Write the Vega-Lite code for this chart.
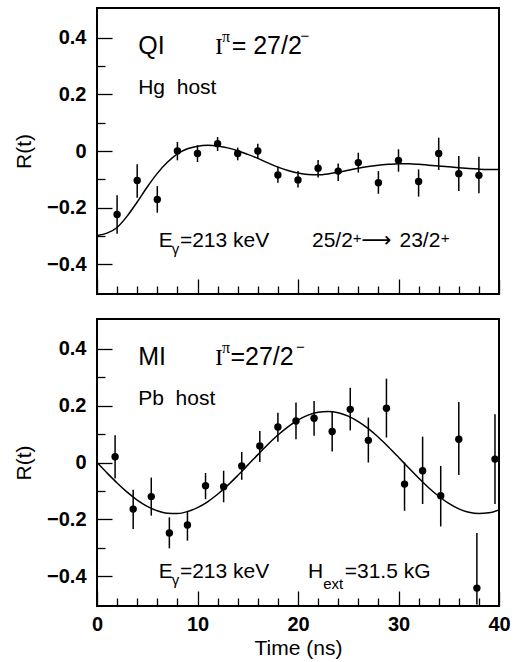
{
  "$schema": "https://vega.github.io/schema/vega-lite/v6.json",
  "background": "white",
  "padding": {"left": 12, "top": 7, "right": 20, "bottom": 2},
  "spacing": 22,
  "config": {
    "font": "Liberation Sans",
    "view": {"stroke": "black", "strokeWidth": 2},
    "axis": {
      "domain": false,
      "grid": false,
      "labelOverlap": false,
      "labelFlush": false,
      "tickColor": "black",
      "tickWidth": 1.3,
      "labelColor": "black",
      "labelFont": "Liberation Sans",
      "labelFontWeight": "bold",
      "labelFontSize": 20,
      "titleColor": "black",
      "titleFont": "Liberation Sans",
      "titleFontWeight": "normal",
      "titleFontSize": 21
    }
  },
  "datasets": {
    "top_pts": [
      {"t": 2, "r": -0.224, "lo": -0.292, "hi": -0.156},
      {"t": 4, "r": -0.104, "lo": -0.165, "hi": -0.047},
      {"t": 6, "r": -0.171, "lo": -0.218, "hi": -0.124},
      {"t": 8, "r": 0.0, "lo": -0.033, "hi": 0.032},
      {"t": 10, "r": -0.009, "lo": -0.039, "hi": 0.02},
      {"t": 12, "r": 0.026, "lo": 0.0, "hi": 0.049},
      {"t": 14, "r": -0.009, "lo": -0.033, "hi": 0.012},
      {"t": 16, "r": 0.0, "lo": -0.027, "hi": 0.026},
      {"t": 18, "r": -0.085, "lo": -0.112, "hi": -0.055},
      {"t": 20, "r": -0.102, "lo": -0.129, "hi": -0.071},
      {"t": 22, "r": -0.061, "lo": -0.094, "hi": -0.032},
      {"t": 24, "r": -0.071, "lo": -0.106, "hi": -0.044},
      {"t": 26, "r": -0.041, "lo": -0.076, "hi": -0.006},
      {"t": 28, "r": -0.112, "lo": -0.151, "hi": -0.071},
      {"t": 30, "r": -0.033, "lo": -0.073, "hi": 0.006},
      {"t": 32, "r": -0.108, "lo": -0.161, "hi": -0.065},
      {"t": 34, "r": -0.009, "lo": -0.067, "hi": 0.047},
      {"t": 36, "r": -0.08, "lo": -0.141, "hi": -0.018},
      {"t": 38, "r": -0.086, "lo": -0.149, "hi": -0.02}
    ],
    "top_fit": [
      {"t": 0, "r": -0.298}, {"t": 1, "r": -0.29}, {"t": 2, "r": -0.27}, {"t": 3, "r": -0.23},
      {"t": 4, "r": -0.18}, {"t": 5, "r": -0.127}, {"t": 6, "r": -0.079}, {"t": 7, "r": -0.04},
      {"t": 8, "r": -0.01}, {"t": 9, "r": 0.008}, {"t": 10, "r": 0.017}, {"t": 11, "r": 0.02},
      {"t": 12, "r": 0.018}, {"t": 13, "r": 0.011}, {"t": 14, "r": 0.001}, {"t": 15, "r": -0.012},
      {"t": 16, "r": -0.026}, {"t": 17, "r": -0.042}, {"t": 18, "r": -0.057}, {"t": 19, "r": -0.069},
      {"t": 20, "r": -0.078}, {"t": 21, "r": -0.083}, {"t": 22, "r": -0.084}, {"t": 23, "r": -0.081},
      {"t": 24, "r": -0.075}, {"t": 25, "r": -0.068}, {"t": 26, "r": -0.061}, {"t": 27, "r": -0.055},
      {"t": 28, "r": -0.05}, {"t": 29, "r": -0.047}, {"t": 30, "r": -0.045}, {"t": 31, "r": -0.045},
      {"t": 32, "r": -0.047}, {"t": 33, "r": -0.05}, {"t": 34, "r": -0.053}, {"t": 35, "r": -0.056},
      {"t": 36, "r": -0.059}, {"t": 37, "r": -0.062}, {"t": 38, "r": -0.064}, {"t": 39, "r": -0.065},
      {"t": 40, "r": -0.065}
    ],
    "bot_pts": [
      {"t": 1.8, "r": 0.02, "lo": -0.056, "hi": 0.096},
      {"t": 3.6, "r": -0.164, "lo": -0.234, "hi": -0.096},
      {"t": 5.4, "r": -0.12, "lo": -0.187, "hi": -0.053},
      {"t": 7.2, "r": -0.248, "lo": -0.302, "hi": -0.193},
      {"t": 9.0, "r": -0.22, "lo": -0.275, "hi": -0.17},
      {"t": 10.8, "r": -0.082, "lo": -0.129, "hi": -0.037},
      {"t": 12.6, "r": -0.085, "lo": -0.14, "hi": -0.029},
      {"t": 14.4, "r": -0.012, "lo": -0.061, "hi": 0.037},
      {"t": 16.2, "r": 0.058, "lo": 0.002, "hi": 0.111},
      {"t": 18.0, "r": 0.125, "lo": 0.073, "hi": 0.175},
      {"t": 19.8, "r": 0.146, "lo": 0.082, "hi": 0.211},
      {"t": 21.6, "r": 0.156, "lo": 0.094, "hi": 0.216},
      {"t": 23.4, "r": 0.109, "lo": 0.039, "hi": 0.181},
      {"t": 25.2, "r": 0.187, "lo": 0.113, "hi": 0.263},
      {"t": 27.0, "r": 0.078, "lo": 0.0, "hi": 0.158},
      {"t": 28.8, "r": 0.191, "lo": 0.088, "hi": 0.295},
      {"t": 30.6, "r": -0.076, "lo": -0.17, "hi": 0.0},
      {"t": 32.4, "r": -0.029, "lo": -0.146, "hi": 0.091},
      {"t": 34.2, "r": -0.117, "lo": -0.225, "hi": -0.012},
      {"t": 36.0, "r": 0.082, "lo": -0.044, "hi": 0.213},
      {"t": 37.8, "r": -0.442, "lo": -0.5, "hi": -0.248},
      {"t": 39.6, "r": 0.012, "lo": -0.146, "hi": 0.17}
    ],
    "bot_fit": [
      {"t": 0, "r": 0.0}, {"t": 1, "r": -0.0368}, {"t": 2, "r": -0.0721}, {"t": 3, "r": -0.1043},
      {"t": 4, "r": -0.1321}, {"t": 5, "r": -0.1543}, {"t": 6, "r": -0.17}, {"t": 7, "r": -0.1785},
      {"t": 8, "r": -0.1795}, {"t": 9, "r": -0.1728}, {"t": 10, "r": -0.1589}, {"t": 11, "r": -0.1383},
      {"t": 12, "r": -0.1118}, {"t": 13, "r": -0.0806}, {"t": 14, "r": -0.0458}, {"t": 15, "r": -0.0093},
      {"t": 16, "r": 0.0277}, {"t": 17, "r": 0.0635}, {"t": 18, "r": 0.0966}, {"t": 19, "r": 0.1256},
      {"t": 20, "r": 0.1493}, {"t": 21, "r": 0.1667}, {"t": 22, "r": 0.1771}, {"t": 23, "r": 0.1799},
      {"t": 24, "r": 0.1752}, {"t": 25, "r": 0.1631}, {"t": 26, "r": 0.144}, {"t": 27, "r": 0.119},
      {"t": 28, "r": 0.0887}, {"t": 29, "r": 0.0547}, {"t": 30, "r": 0.0185}, {"t": 31, "r": -0.0185},
      {"t": 32, "r": -0.0548}, {"t": 33, "r": -0.0887}, {"t": 34, "r": -0.1188}, {"t": 35, "r": -0.144},
      {"t": 36, "r": -0.1631}, {"t": 37, "r": -0.1752}, {"t": 38, "r": -0.1799}, {"t": 39, "r": -0.1771},
      {"t": 40, "r": -0.1667}
    ],
    "top_txt": [
      {"kind": "main", "x": 4.1, "y": 0.343, "text": "QI"},
      {"kind": "main", "x": 13.4, "y": 0.343, "text": "= 27/2"},
      {"kind": "symbol", "x": 11.74, "y": 0.343, "text": "I"},
      {"kind": "greek", "x": 12.45, "y": 0.386, "text": "π"},
      {"kind": "script", "x": 20.25, "y": 0.389, "text": "−"},
      {"kind": "note", "x": 4.1, "y": 0.201, "text": "Hg\u00a0\u00a0host"},
      {"kind": "note", "x": 6.15, "y": -0.3375, "text": "E"},
      {"kind": "script", "x": 7.45, "y": -0.364, "text": "γ"},
      {"kind": "note", "x": 8.25, "y": -0.3375, "text": "=213 keV"},
      {"kind": "note", "x": 21.39, "y": -0.3375, "text": "25/2"},
      {"kind": "script", "x": 25.45, "y": -0.325, "text": "+"},
      {"kind": "arrow", "x": 26.3, "y": -0.3375, "text": "⟶"},
      {"kind": "note", "x": 30.1, "y": -0.3375, "text": "23/2"},
      {"kind": "script", "x": 34.2, "y": -0.325, "text": "+"}
    ],
    "bot_txt": [
      {"kind": "main", "x": 4.1, "y": 0.343, "text": "MI"},
      {"kind": "main", "x": 13.28, "y": 0.343, "text": "=27/2"},
      {"kind": "symbol", "x": 11.74, "y": 0.343, "text": "I"},
      {"kind": "greek", "x": 12.45, "y": 0.386, "text": "π"},
      {"kind": "script", "x": 19.8, "y": 0.389, "text": "−"},
      {"kind": "note", "x": 4.1, "y": 0.201, "text": "Pb\u00a0\u00a0host"},
      {"kind": "note", "x": 6.15, "y": -0.4064, "text": "E"},
      {"kind": "script", "x": 7.45, "y": -0.432, "text": "γ"},
      {"kind": "note", "x": 8.25, "y": -0.4064, "text": "=213 keV"},
      {"kind": "note", "x": 21.0, "y": -0.4064, "text": "H"},
      {"kind": "script", "x": 22.5, "y": -0.446, "text": "ext"},
      {"kind": "note", "x": 24.65, "y": -0.4064, "text": "=31.5 kG"}
    ]
  },
  "vconcat": [
    {
      "width": 402,
      "height": 286,
      "resolve": {"axis": {"x": "independent", "y": "independent"}},
      "layer": [
        {
          "data": {"name": "top_pts"},
          "mark": {"type": "rule", "color": "black", "strokeWidth": 1.5},
          "encoding": {
            "x": {"field": "t", "type": "quantitative",
              "scale": {"domain": [0, 40], "nice": false, "zero": false},
              "axis": {"orient": "bottom", "values": [2,4,6,8,12,14,16,18,22,24,26,28,32,34,36,38],
                "labels": false, "title": null, "tickSize": -8}},
            "y": {"field": "lo", "type": "quantitative",
              "scale": {"domain": [-0.505, 0.505], "nice": false, "zero": false},
              "axis": {"orient": "left", "values": [-0.3, -0.1, 0.1, 0.3],
                "labels": false, "title": null, "tickSize": -8}},
            "y2": {"field": "hi"}
          }
        },
        {
          "data": {"name": "top_pts"},
          "mark": {"type": "circle", "color": "black", "opacity": 1, "size": 55},
          "encoding": {
            "x": {"field": "t", "type": "quantitative",
              "axis": {"orient": "bottom", "values": [0, 10, 20, 30, 40],
                "labels": false, "title": null, "tickSize": -15}},
            "y": {"field": "r", "type": "quantitative",
              "axis": {"orient": "left", "values": [-0.4, -0.2, 0, 0.2, 0.4],
                "title": "R(t)", "titlePadding": 12, "labelPadding": 26, "tickSize": -15,
                "labelExpr": "datum.value == 0 ? '0' : format(datum.value, '.1f')"}}
          }
        },
        {
          "data": {"name": "top_fit"},
          "mark": {"type": "line", "color": "black", "strokeWidth": 1.5, "interpolate": "monotone", "clip": true},
          "encoding": {
            "x": {"field": "t", "type": "quantitative", "axis": null},
            "y": {"field": "r", "type": "quantitative", "axis": null}
          }
        },
        {
          "mark": {"type": "rule", "color": "black", "strokeWidth": 1.3},
          "encoding": {"y": {"datum": 0, "type": "quantitative", "axis": null}}
        },
        {
          "data": {"name": "top_txt"},
          "transform": [{"filter": "datum.kind == 'main'"}],
          "mark": {"type": "text", "align": "left", "baseline": "alphabetic", "font": "Liberation Sans", "fontSize": 25, "color": "black"},
          "encoding": {"x": {"field": "x", "type": "quantitative", "axis": null}, "y": {"field": "y", "type": "quantitative", "axis": null}, "text": {"field": "text"}}
        },
        {
          "data": {"name": "top_txt"},
          "transform": [{"filter": "datum.kind == 'note'"}],
          "mark": {"type": "text", "align": "left", "baseline": "alphabetic", "font": "Liberation Sans", "fontSize": 21, "color": "black"},
          "encoding": {"x": {"field": "x", "type": "quantitative", "axis": null}, "y": {"field": "y", "type": "quantitative", "axis": null}, "text": {"field": "text"}}
        },
        {
          "data": {"name": "top_txt"},
          "transform": [{"filter": "datum.kind == 'script'"}],
          "mark": {"type": "text", "align": "left", "baseline": "alphabetic", "font": "Liberation Sans", "fontSize": 15, "color": "black"},
          "encoding": {"x": {"field": "x", "type": "quantitative", "axis": null}, "y": {"field": "y", "type": "quantitative", "axis": null}, "text": {"field": "text"}}
        },
        {
          "data": {"name": "top_txt"},
          "transform": [{"filter": "datum.kind == 'symbol'"}],
          "mark": {"type": "text", "align": "left", "baseline": "alphabetic", "font": "Liberation Serif", "fontSize": 24, "color": "black"},
          "encoding": {"x": {"field": "x", "type": "quantitative", "axis": null}, "y": {"field": "y", "type": "quantitative", "axis": null}, "text": {"field": "text"}}
        },
        {
          "data": {"name": "top_txt"},
          "transform": [{"filter": "datum.kind == 'greek'"}],
          "mark": {"type": "text", "align": "left", "baseline": "alphabetic", "font": "Liberation Serif", "fontSize": 16, "color": "black"},
          "encoding": {"x": {"field": "x", "type": "quantitative", "axis": null}, "y": {"field": "y", "type": "quantitative", "axis": null}, "text": {"field": "text"}}
        },
        {
          "data": {"name": "top_txt"},
          "transform": [{"filter": "datum.kind == 'arrow'"}],
          "mark": {"type": "text", "align": "left", "baseline": "alphabetic", "font": "DejaVu Sans", "fontSize": 21, "color": "black"},
          "encoding": {"x": {"field": "x", "type": "quantitative", "axis": null}, "y": {"field": "y", "type": "quantitative", "axis": null}, "text": {"field": "text"}}
        }
      ]
    },
    {
      "width": 402,
      "height": 287,
      "resolve": {"axis": {"x": "independent", "y": "independent"}},
      "layer": [
        {
          "data": {"name": "bot_pts"},
          "mark": {"type": "rule", "color": "black", "strokeWidth": 1.5, "clip": true},
          "encoding": {
            "x": {"field": "t", "type": "quantitative",
              "scale": {"domain": [0, 40], "nice": false, "zero": false},
              "axis": {"orient": "bottom", "values": [2,4,6,8,12,14,16,18,22,24,26,28,32,34,36,38],
                "labels": false, "title": null, "tickSize": -8}},
            "y": {"field": "lo", "type": "quantitative",
              "scale": {"domain": [-0.505, 0.505], "nice": false, "zero": false},
              "axis": {"orient": "left", "values": [-0.3, -0.1, 0.1, 0.3],
                "labels": false, "title": null, "tickSize": -8}},
            "y2": {"field": "hi"}
          }
        },
        {
          "data": {"name": "bot_pts"},
          "mark": {"type": "circle", "color": "black", "opacity": 1, "size": 55},
          "encoding": {
            "x": {"field": "t", "type": "quantitative",
              "axis": {"orient": "bottom", "values": [0, 10, 20, 30, 40],
                "title": "Time (ns)", "titlePadding": 3, "labelPadding": 23, "tickSize": -15,
                "labelExpr": "format(datum.value, 'd')"}},
            "y": {"field": "r", "type": "quantitative",
              "axis": {"orient": "left", "values": [-0.4, -0.2, 0, 0.2, 0.4],
                "title": "R(t)", "titlePadding": 12, "labelPadding": 26, "tickSize": -15,
                "labelExpr": "datum.value == 0 ? '0' : format(datum.value, '.1f')"}}
          }
        },
        {
          "data": {"name": "bot_fit"},
          "mark": {"type": "line", "color": "black", "strokeWidth": 1.5, "interpolate": "monotone", "clip": true},
          "encoding": {
            "x": {"field": "t", "type": "quantitative", "axis": null},
            "y": {"field": "r", "type": "quantitative", "axis": null}
          }
        },
        {
          "mark": {"type": "rule", "color": "black", "strokeWidth": 1.3},
          "encoding": {"y": {"datum": 0, "type": "quantitative", "axis": null}}
        },
        {
          "data": {"name": "bot_txt"},
          "transform": [{"filter": "datum.kind == 'main'"}],
          "mark": {"type": "text", "align": "left", "baseline": "alphabetic", "font": "Liberation Sans", "fontSize": 25, "color": "black"},
          "encoding": {"x": {"field": "x", "type": "quantitative", "axis": null}, "y": {"field": "y", "type": "quantitative", "axis": null}, "text": {"field": "text"}}
        },
        {
          "data": {"name": "bot_txt"},
          "transform": [{"filter": "datum.kind == 'note'"}],
          "mark": {"type": "text", "align": "left", "baseline": "alphabetic", "font": "Liberation Sans", "fontSize": 21, "color": "black"},
          "encoding": {"x": {"field": "x", "type": "quantitative", "axis": null}, "y": {"field": "y", "type": "quantitative", "axis": null}, "text": {"field": "text"}}
        },
        {
          "data": {"name": "bot_txt"},
          "transform": [{"filter": "datum.kind == 'script'"}],
          "mark": {"type": "text", "align": "left", "baseline": "alphabetic", "font": "Liberation Sans", "fontSize": 15, "color": "black"},
          "encoding": {"x": {"field": "x", "type": "quantitative", "axis": null}, "y": {"field": "y", "type": "quantitative", "axis": null}, "text": {"field": "text"}}
        },
        {
          "data": {"name": "bot_txt"},
          "transform": [{"filter": "datum.kind == 'symbol'"}],
          "mark": {"type": "text", "align": "left", "baseline": "alphabetic", "font": "Liberation Serif", "fontSize": 24, "color": "black"},
          "encoding": {"x": {"field": "x", "type": "quantitative", "axis": null}, "y": {"field": "y", "type": "quantitative", "axis": null}, "text": {"field": "text"}}
        },
        {
          "data": {"name": "bot_txt"},
          "transform": [{"filter": "datum.kind == 'greek'"}],
          "mark": {"type": "text", "align": "left", "baseline": "alphabetic", "font": "Liberation Serif", "fontSize": 16, "color": "black"},
          "encoding": {"x": {"field": "x", "type": "quantitative", "axis": null}, "y": {"field": "y", "type": "quantitative", "axis": null}, "text": {"field": "text"}}
        }
      ]
    }
  ]
}
